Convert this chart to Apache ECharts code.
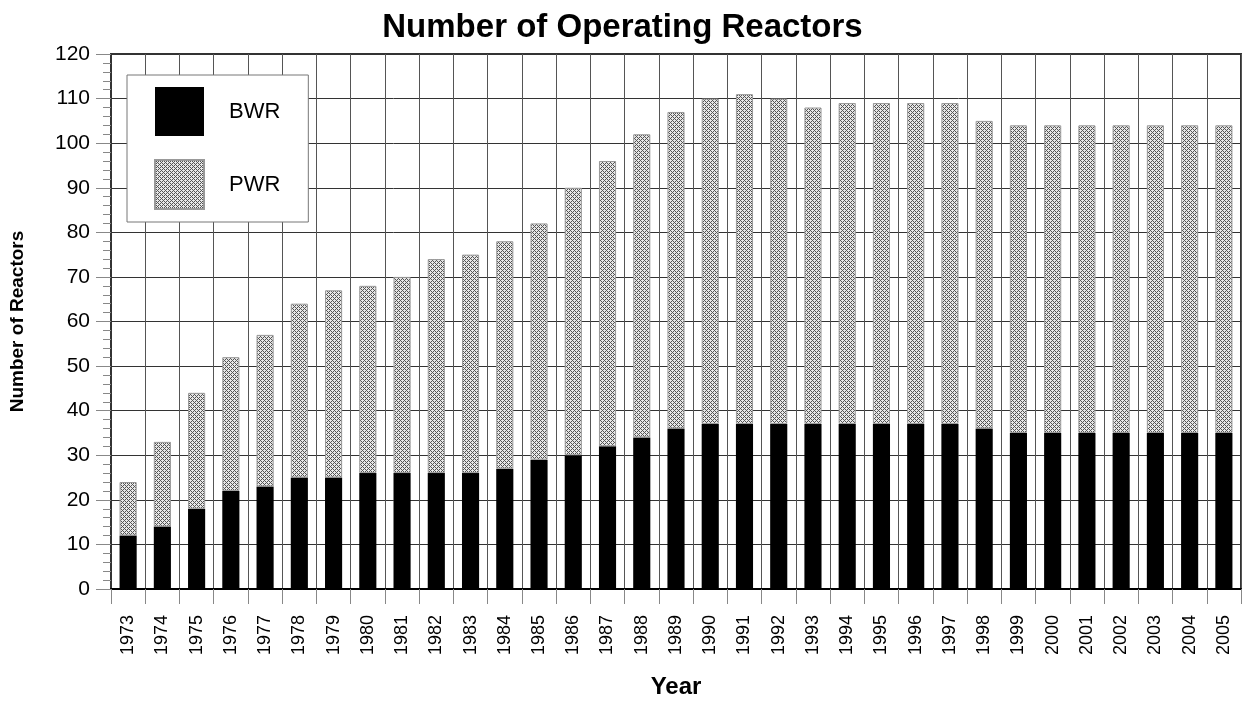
<!DOCTYPE html>
<html>
<head>
<meta charset="utf-8">
<script src="https://cdn.jsdelivr.net/npm/echarts@6/dist/echarts.min.js"></script>
<style>
  html, body { margin: 0; padding: 0; background: #fff; }
  #main { width: 1245px; height: 704px; }
</style>
</head>
<body>
<div id="main"></div>
<script>
// year categories
const years = ['1973', '1974', '1975', '1976', '1977', '1978', '1979', '1980', '1981', '1982', '1983',
  '1984', '1985', '1986', '1987', '1988', '1989', '1990', '1991', '1992', '1993', '1994', '1995',
  '1996', '1997', '1998', '1999', '2000', '2001', '2002', '2003', '2004', '2005']
// boiling water reactors (bottom of stack)
const bwr = [12, 14, 18, 22, 23, 25, 25, 26, 26, 26, 26, 27, 29, 30, 32, 34, 36, 37, 37, 37, 37,
  37, 37, 37, 37, 36, 35, 35, 35, 35, 35, 35, 35]
// pressurized water reactors (top of stack)
const pwr = [12, 19, 26, 30, 34, 39, 42, 42, 44, 48, 49, 51, 53, 60, 64, 68, 71, 73, 74, 73, 71,
  72, 72, 72, 72, 69, 69, 69, 69, 69, 69, 69, 69]

// crosshatch fill for PWR bars
const makeHatch = () => {
  const c = document.createElement('canvas')
  c.width = 4
  c.height = 4
  const ctx = c.getContext('2d')
  ctx.fillStyle = '#e8e8e8'
  ctx.fillRect(0, 0, 4, 4)
  ctx.fillStyle = '#555'
  for (let x = 0; x < 4; x++) {
    for (let y = 0; y < 4; y++) {
      if ((x + y) % 4 === 0 || ((x - y) + 4) % 4 === 0) ctx.fillRect(x, y, 1, 1)
    }
  }
  return c
}
const hatch = { image: makeHatch(), repeat: 'repeat' }

const chart = echarts.init(document.getElementById('main'))
const font = 'Liberation Sans, Arial, sans-serif'

const option = {
  animation: false,
  textStyle: { fontFamily: font },
  title: {
    text: 'Number of Operating Reactors',
    left: 'center',
    top: 6,
    textStyle: { fontSize: 33, fontWeight: 'bold', color: '#000', fontFamily: font }
  },
  legend: {
    orient: 'vertical',
    left: 127,
    top: 75,
    padding: [12, 28, 12, 27],
    itemWidth: 49,
    itemHeight: 49,
    itemGap: 23,
    icon: 'rect',
    backgroundColor: '#fff',
    borderColor: '#777',
    borderWidth: 1,
    textStyle: { fontSize: 22, color: '#000', padding: [0, 0, 0, 20] },
    data: ['BWR', 'PWR']
  },
  grid: {
    left: 111,
    right: 4,
    top: 54,
    bottom: 112,
    show: true,
    borderColor: '#333',
    borderWidth: 2
  },
  xAxis: {
    type: 'category',
    data: years,
    name: 'Year',
    nameLocation: 'middle',
    nameGap: 86,
    nameTextStyle: { fontSize: 24, fontWeight: 'bold', color: '#000' },
    axisLine: { lineStyle: { color: '#000', width: 2 } },
    axisTick: { show: true, length: 15, lineStyle: { color: '#888' } },
    axisLabel: { rotate: 90, fontSize: 18, color: '#000', margin: 26 },
    splitLine: { show: true, lineStyle: { color: '#555', width: 1 } }
  },
  yAxis: {
    type: 'value',
    min: 0,
    max: 120,
    interval: 10,
    name: 'Number of Reactors',
    nameLocation: 'middle',
    nameGap: 84,
    nameTextStyle: { fontSize: 19, fontWeight: 'bold', color: '#000' },
    axisLine: { show: true, lineStyle: { color: '#333', width: 2 } },
    axisTick: { show: true, length: 15, lineStyle: { color: '#888' } },
    minorTick: { show: true, splitNumber: 5, length: 8, lineStyle: { color: '#888' } },
    axisLabel: { fontSize: 21, color: '#000', margin: 21 },
    splitLine: { show: true, lineStyle: { color: '#333', width: 1 } }
  },
  series: [
    {
      name: 'BWR',
      type: 'bar',
      stack: 'total',
      barWidth: '50%',
      itemStyle: { color: '#000' },
      data: bwr
    },
    {
      name: 'PWR',
      type: 'bar',
      stack: 'total',
      barWidth: '50%',
      itemStyle: { color: hatch, borderColor: '#999', borderWidth: 1 },
      data: pwr
    }
  ]
}

chart.setOption(option)
</script>
</body>
</html>
